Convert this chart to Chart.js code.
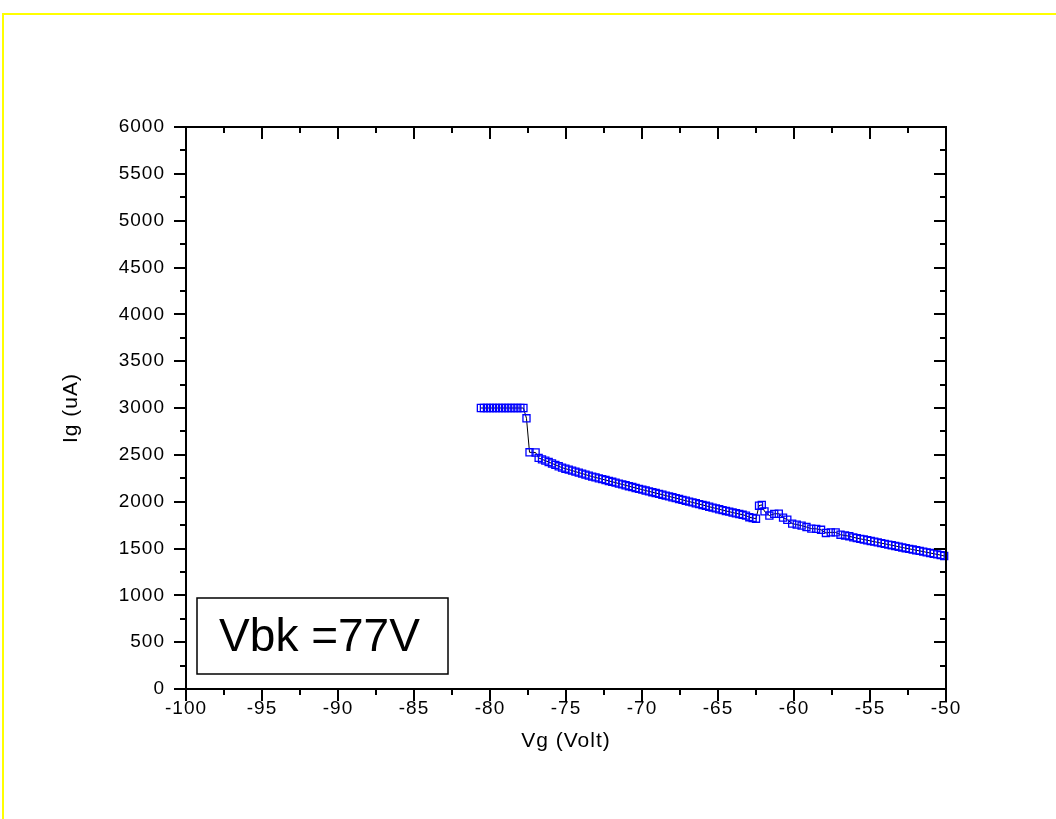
<!DOCTYPE html>
<html>
<head>
<meta charset="utf-8">
<title>Ig vs Vg</title>
<script src="https://cdn.jsdelivr.net/npm/chart.js@4.4.1/dist/chart.umd.min.js"></script>
<style>
  html, body { margin: 0; padding: 0; background: #ffffff; }
  #wrap { position: relative; width: 1056px; height: 819px; overflow: hidden; }
  #frame { position: absolute; left: 2px; top: 13px; width: 1060px; height: 820px;
           border-top: 2px solid #ffff00; border-left: 2px solid #ffff00; box-sizing: border-box; }
  canvas { position: absolute; left: 0; top: 0; }
</style>
</head>
<body>
<div id="wrap">
  <canvas id="c" width="1056" height="819"></canvas>
  <div id="frame"></div>
</div>
<script>
// Gate voltage sweep (V)
const vg = [
  -80.6, -80.4, -80.2, -80.0, -79.8, -79.6, -79.4, -79.2, -79.0, -78.8,
  -78.6, -78.4, -78.2, -78.0, -77.8, -77.6, -77.4, -77.0, -76.8,
  -76.58, -76.36, -76.14, -75.92, -75.70, -75.48, -75.26, -75.04, -74.82, -74.60,
  -74.38, -74.16, -73.94, -73.72, -73.50, -73.28, -73.06, -72.84, -72.62, -72.40,
  -72.18, -71.96, -71.74, -71.52, -71.30, -71.08, -70.86, -70.64, -70.42, -70.20,
  -69.98, -69.76, -69.54, -69.32, -69.10, -68.88, -68.66, -68.44, -68.22, -68.00,
  -67.78, -67.56, -67.34, -67.12, -66.90, -66.68, -66.46, -66.24, -66.02, -65.80,
  -65.58, -65.36, -65.14, -64.92, -64.70, -64.48, -64.26, -64.04, -63.82, -63.60,
  -63.38, -63.16, -62.94, -62.72, -62.50,
  -62.30, -62.12, -61.94, -61.62, -61.30, -61.00, -60.72, -60.44, -60.12, -59.82,
  -59.50, -59.18, -58.86, -58.54, -58.22, -57.90, -57.58, -57.26, -56.94, -56.64,
  -56.36, -56.10, -55.87, -55.64, -55.41, -55.18, -54.95, -54.72, -54.49, -54.26,
  -54.03, -53.80, -53.57, -53.34, -53.11, -52.88, -52.65, -52.42, -52.19, -51.96,
  -51.73, -51.50, -51.27, -51.04, -50.81, -50.58, -50.35, -50.12
];

// Gate current (uA)
const ig = [
  3000, 3000, 3000, 3000, 3000, 3000, 3000, 3000, 3000, 3000,
  3000, 3000, 3000, 3000, 3000, 2890, 2527, 2525, 2467,
  2452, 2438, 2423, 2408, 2393, 2378, 2363, 2352, 2342, 2332,
  2321, 2310, 2300, 2289, 2278, 2268, 2259, 2249, 2240, 2231,
  2221, 2212, 2203, 2193, 2184, 2175, 2165, 2156, 2146, 2137,
  2128, 2119, 2110, 2101, 2092, 2083, 2074, 2065, 2056, 2047,
  2038, 2029, 2019, 2010, 2001, 1992, 1983, 1974, 1965, 1956,
  1946, 1937, 1928, 1919, 1910, 1901, 1893, 1884, 1876, 1868,
  1860, 1851, 1834, 1826, 1818,
  1957, 1966, 1896, 1852, 1870, 1871, 1830, 1807, 1766, 1755,
  1744, 1729, 1712, 1710, 1700, 1666, 1672, 1672, 1647, 1639,
  1631, 1619, 1611, 1603, 1596, 1588, 1580, 1573, 1565, 1557,
  1550, 1542, 1535, 1527, 1519, 1511, 1503, 1496, 1489, 1481,
  1474, 1467, 1459, 1452, 1444, 1437, 1429, 1420
];

// Axis ticks
const xMajor = [-100, -95, -90, -85, -80, -75, -70, -65, -60, -55, -50];
const xMinor = [-97.5, -92.5, -87.5, -82.5, -77.5, -72.5, -67.5, -62.5, -57.5, -52.5];
const yMajor = [0, 500, 1000, 1500, 2000, 2500, 3000, 3500, 4000, 4500, 5000, 5500, 6000];
const yMinor = [250, 750, 1250, 1750, 2250, 2750, 3250, 3750, 4250, 4750, 5250, 5750];

const noteText = 'Vbk =77V';
const noteBoxX = [-99.3, -82.75];
const noteBoxY = [160, 970];

const FONT = "'Liberation Sans', Arial, Helvetica, sans-serif";

const points = vg.map((v, i) => ({ x: v, y: ig[i] }));

// Axis frame, inner/outer tick marks and the annotation box
const frameTicks = {
  id: 'frameTicks',
  beforeDraw(chart) {
    chart.ctx.letterSpacing = '1px';
  },
  afterDatasetsDraw(chart) {
    const { ctx, chartArea: a, scales: { x, y } } = chart;
    const L = Math.round(a.left), R = Math.round(a.right);
    const T = Math.round(a.top), B = Math.round(a.bottom);
    ctx.save();
    ctx.strokeStyle = '#000';
    ctx.lineWidth = 2;
    ctx.lineCap = 'butt';
    ctx.beginPath();
    ctx.rect(L, T, R - L, B - T);
    const seg = (x1, y1, x2, y2) => { ctx.moveTo(x1, y1); ctx.lineTo(x2, y2); };
    xMajor.forEach(v => { const p = Math.round(x.getPixelForValue(v)); seg(p, B, p, B + 12); seg(p, T, p, T + 12); });
    xMinor.forEach(v => { const p = Math.round(x.getPixelForValue(v)); seg(p, B, p, B + 6); seg(p, T, p, T + 6); });
    yMajor.forEach(v => { const p = Math.round(y.getPixelForValue(v)); seg(L - 12, p, L, p); seg(R - 12, p, R, p); });
    yMinor.forEach(v => { const p = Math.round(y.getPixelForValue(v)); seg(L - 6, p, L, p); seg(R - 6, p, R, p); });
    ctx.stroke();

    // annotation box
    const bx1 = Math.round(x.getPixelForValue(noteBoxX[0]));
    const bx2 = Math.round(x.getPixelForValue(noteBoxX[1]));
    const by1 = Math.round(y.getPixelForValue(noteBoxY[1]));
    const by2 = Math.round(y.getPixelForValue(noteBoxY[0]));
    ctx.fillStyle = '#fff';
    ctx.fillRect(bx1, by1, bx2 - bx1, by2 - by1);
    ctx.lineWidth = 1.5;
    ctx.strokeRect(bx1, by1, bx2 - bx1, by2 - by1);
    ctx.letterSpacing = '0px';
    ctx.fillStyle = '#000';
    ctx.font = '46px ' + FONT;
    ctx.textAlign = 'center';
    ctx.textBaseline = 'alphabetic';
    ctx.fillText(noteText, (bx1 + bx2) / 2 - 3, by2 - 23);
    ctx.restore();
  }
};

new Chart(document.getElementById('c'), {
  type: 'line',
  data: {
    datasets: [{
      data: points,
      borderColor: '#000000',
      borderWidth: 1,
      pointStyle: 'rect',
      pointRadius: 5,
      pointBorderColor: '#0000ff',
      pointBackgroundColor: 'rgba(0,0,0,0)',
      pointBorderWidth: 1.3,
      fill: false,
      tension: 0,
      clip: false
    }]
  },
  options: {
    responsive: false,
    animation: false,
    events: [],
    layout: { padding: { top: 127, right: 110, left: 0, bottom: 0 } },
    plugins: { legend: { display: false }, tooltip: { enabled: false }, title: { display: false } },
    scales: {
      x: {
        type: 'linear',
        min: -100, max: -50,
        afterBuildTicks: s => { s.ticks = xMajor.map(v => ({ value: v })); },
        afterFit: s => { s.height = 130; },
        grid: { display: false, drawTicks: false },
        border: { display: false },
        ticks: {
          color: '#000', padding: 8, maxRotation: 0, autoSkip: false,
          font: { family: FONT, size: 19 },
          callback: v => String(v)
        },
        title: {
          display: true, text: 'Vg (Volt)', color: '#000',
          font: { family: FONT, size: 21 },
          padding: { top: 0, bottom: 65 }
        }
      },
      y: {
        type: 'linear',
        min: 0, max: 6000,
        afterBuildTicks: s => { s.ticks = yMajor.map(v => ({ value: v })); },
        afterFit: s => { s.width = 186; },
        grid: { display: false, drawTicks: false },
        border: { display: false },
        ticks: {
          color: '#000', padding: 21, autoSkip: false,
          font: { family: FONT, size: 19 },
          callback: v => String(v)
        },
        title: {
          display: true, text: 'Ig (uA)', color: '#000',
          font: { family: FONT, size: 21 },
          padding: { top: 59, bottom: 0 }
        }
      }
    }
  },
  plugins: [frameTicks]
});
</script>
</body>
</html>
